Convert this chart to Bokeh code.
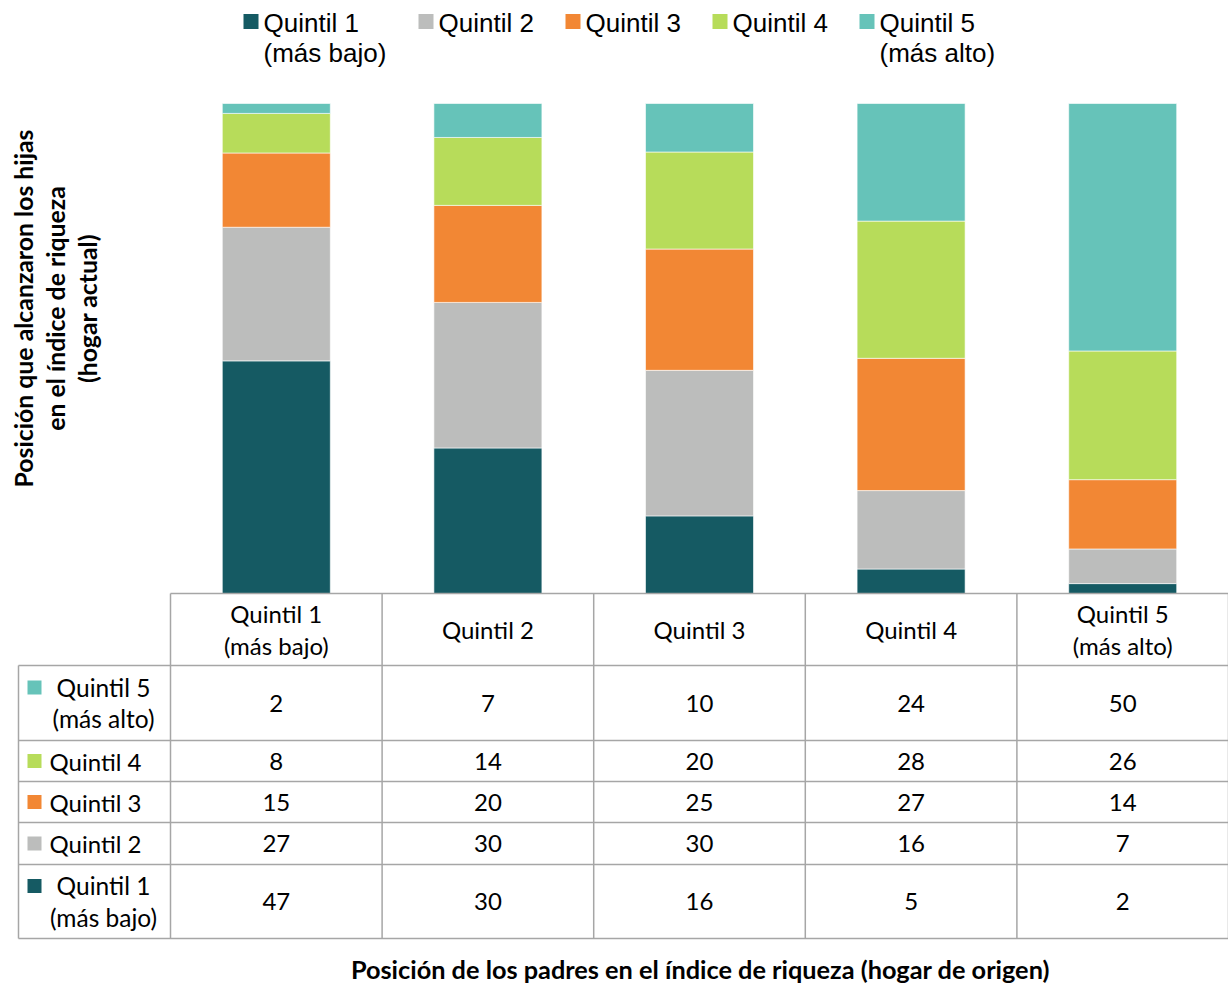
import numpy as np
from bokeh.plotting import figure
from bokeh.models import Range1d
from bokeh.embed import file_html
from bokeh.resources import INLINE
from bokeh.core.properties import value

# ---------------- data ----------------
categories = ["Quintil 1\n(más bajo)", "Quintil 2", "Quintil 3", "Quintil 4", "Quintil 5\n(más alto)"]
series_names = ["Quintil 1\n(más bajo)", "Quintil 2", "Quintil 3", "Quintil 4", "Quintil 5\n(más alto)"]
q1 = [47, 30, 16, 5, 2]
q2 = [27, 30, 30, 16, 7]
q3 = [15, 20, 25, 27, 14]
q4 = [8, 14, 20, 28, 26]
q5 = [2, 7, 10, 24, 50]
colors = ["#155a63", "#bcbdbc", "#f28734", "#b7dc5a", "#66c3b9"]
y_title = "Posición que alcanzaron los hijas\nen el índice de riqueza\n(hogar actual)"
x_title = "Posición de los padres en el  índice de riqueza (hogar de origen)"

series = [q1, q2, q3, q4, q5]

# ---------------- layout (reference pixel space) ----------------
W, H = 1228, 986
COL0, COLR = 170.0, 1228.0
COLW = (COLR - COL0) / len(categories)
BASE, TOP = 593.0, 103.0
PX_PER_PCT = (BASE - TOP) / 100.0


def X(px):
    return (px - COL0) / COLW


def Y(py):
    return (BASE - py) / PX_PER_PCT


p = figure(width=W, height=H, output_backend="svg", toolbar_location=None,
           x_range=Range1d(X(0), X(1228)), y_range=Range1d(Y(986), Y(0)),
           min_border=0, outline_line_color=None)
p.xaxis.visible = False
p.yaxis.visible = False
p.xgrid.visible = False
p.ygrid.visible = False

TXT = value("Lato")
ARIAL = value("Liberation Sans")

# ---------------- stacked 100% bars ----------------
arr = np.array(series, dtype=float)
totals = arr.sum(axis=0)
pct = arr / totals * 100.0
xs = np.arange(len(categories)) + 0.5
bottom = np.zeros(len(categories))
bar_w = 108.0 / COLW
for k in range(len(series)):
    p.vbar(x=xs, width=bar_w, bottom=bottom, top=bottom + pct[k],
           fill_color=colors[k], line_color="white", line_width=0.6)
    bottom = bottom + pct[k]

# ---------------- legend (top) ----------------
leg_x = [243, 418, 565, 712, 859]
sq = 15
for k, name in enumerate(series_names):
    p.rect(x=[X(leg_x[k] + sq / 2)], y=[Y(21)], width=sq / COLW, height=sq / PX_PER_PCT,
           fill_color=colors[k], line_color=None)
    p.text(x=[X(leg_x[k] + sq + 5)], y=[Y(7)], text=[name], text_font=ARIAL,
           text_font_size="26px", text_align="left", text_baseline="top",
           text_line_height=1.0, text_color="#000000")

# ---------------- data table ----------------
row_heights = [72, 75, 41, 41, 42, 74]
edges = BASE + np.concatenate([[0], np.cumsum(row_heights)])
line_col = "#a6a6a6"
lw = 1.5
LEFT = 18
# horizontal lines
p.segment(x0=[X(COL0)], y0=[Y(edges[0])], x1=[X(COLR)], y1=[Y(edges[0])],
          line_color=line_col, line_width=lw)
p.segment(x0=[X(LEFT)] * (len(edges) - 1), y0=list(Y(edges[1:])),
          x1=[X(COLR)] * (len(edges) - 1), y1=list(Y(edges[1:])),
          line_color=line_col, line_width=lw)
# vertical lines
vx = list(range(len(categories) + 1))
p.segment(x0=vx, y0=[Y(edges[0])] * len(vx), x1=vx, y1=[Y(edges[-1])] * len(vx),
          line_color=line_col, line_width=lw)
p.segment(x0=[X(LEFT)], y0=[Y(edges[1])], x1=[X(LEFT)], y1=[Y(edges[-1])],
          line_color=line_col, line_width=lw)

centers = (edges[:-1] + edges[1:]) / 2
LH = 1.08
# header row
p.text(x=xs, y=[Y(centers[0])] * len(xs), text=categories, text_font=TXT,
       text_font_size="24px", text_align="center", text_baseline="middle",
       text_line_height=LH, text_color="#000000")

# body rows: Quintil 5 on top ... Quintil 1 at bottom
order = list(range(len(series)))[::-1]
for r, k in enumerate(order):
    cy = centers[r + 1]
    p.text(x=xs, y=[Y(cy)] * len(xs), text=[str(v) for v in series[k]], text_font=TXT,
           text_font_size="24px", text_align="center", text_baseline="middle",
           text_color="#000000")
    two_line = "\n" in series_names[k]
    sq_y = cy - 15.5 if two_line else cy
    p.rect(x=[X(34)], y=[Y(sq_y)], width=14 / COLW, height=14 / PX_PER_PCT,
           fill_color=colors[k], line_color=None)
    if two_line:
        p.text(x=[X(103)], y=[Y(cy)], text=[series_names[k]], text_font=TXT,
               text_font_size="24.5px", text_align="center", text_baseline="middle",
               text_line_height=LH, text_color="#000000")
    else:
        p.text(x=[X(49)], y=[Y(cy)], text=[series_names[k]], text_font=TXT,
               text_font_size="24px", text_align="left", text_baseline="middle",
               text_color="#000000")

# ---------------- axis titles ----------------
p.text(x=[X(55)], y=[Y(308)], text=[y_title], angle=np.pi / 2, text_font=TXT,
       text_font_style="bold", text_font_size="24.8px", text_align="center",
       text_baseline="middle", text_line_height=1.1, text_color="#000000")
p.text(x=[X(703)], y=[Y(968)], text=[x_title], text_font=TXT,
       text_font_style="bold", text_font_size="25.3px", text_align="center",
       text_baseline="middle", text_color="#000000")

open("out.html", "w").write(file_html(p, INLINE))
